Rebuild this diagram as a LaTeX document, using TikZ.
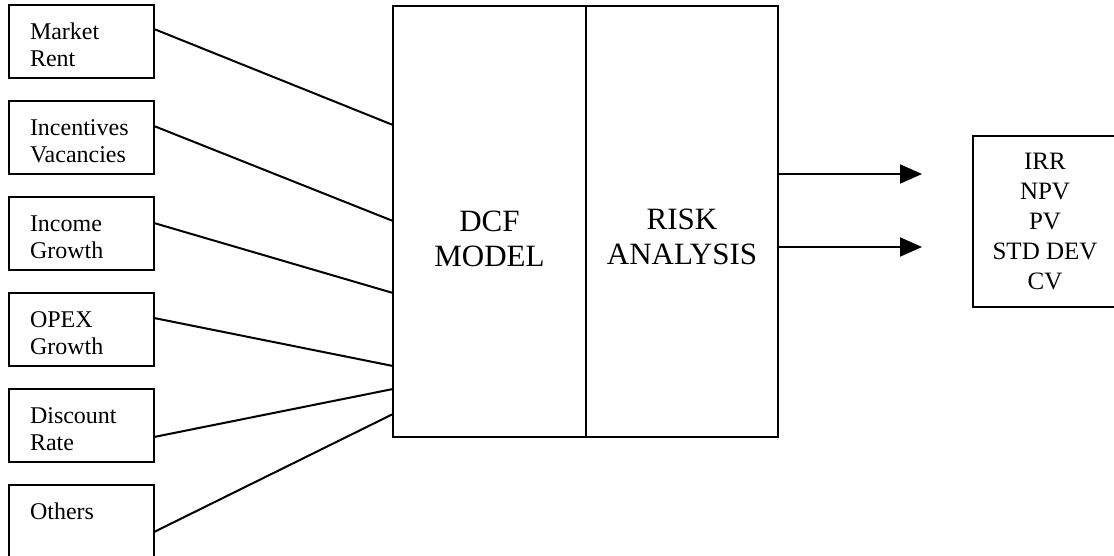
\documentclass[tikz,border=0pt]{standalone}
\usepackage{fontspec}
\setmainfont{Liberation Serif}
\usetikzlibrary{positioning,arrows.meta}

\begin{document}
\begin{tikzpicture}[line width=1pt,
    inbox/.style={draw, outer sep=0pt, text width=51.5pt, inner xsep=10.5pt,
        inner ysep=0pt, align=left, minimum height=36.5pt, text height=11.5pt,
        font=\fontsize{12}{13.5}\selectfont},
    bigbox/.style={draw, outer sep=0pt, minimum height=215.5pt},
    bigtext/.style={align=center, font=\fontsize{15.5}{17.5}\selectfont},
    outbox/.style={draw, outer sep=0pt, align=center, minimum width=72pt,
        minimum height=85.5pt, font=\fontsize{12.5}{15}\selectfont},
    arrow/.style={-{Triangle[length=11pt,width=9.5pt]}}]

% Frame of the picture
\path[use as bounding box, clip] (0,0) rectangle (557pt,-278pt);

% Input blocks
\node[inbox, anchor=north west] (in1) at (4.5pt,-2.5pt) {Market\\Rent};
\node[inbox, below=11.5pt of in1] (in2) {Incentives\\Vacancies};
\node[inbox, below=11.5pt of in2] (in3) {Income\\Growth};
\node[inbox, below=11.5pt of in3] (in4) {OPEX\\Growth};
\node[inbox, below=11.5pt of in4] (in5) {Discount\\Rate};
\node[inbox, below=11.5pt of in5] (in6) {Others\\\mbox{}};

% DCF model and risk analysis
\node[bigbox,
    minimum width=96.5pt,
    right=119.5pt of in1.north east,
    anchor=north west,
    yshift=-0.5pt,
    label={[bigtext, yshift=-8.5pt]center:DCF\\MODEL}] (dcf) {};

\node[bigbox,
    minimum width=96pt,
    right=0pt of dcf,
    label={[bigtext, yshift=-7.5pt]center:RISK\\ANALYSIS}] (risk) {};

% Results
\node[outbox, right=97.5pt of risk] (out) {IRR\\NPV\\PV\\STD DEV\\CV};

\coordinate (tip1) at ([xshift=-25.5pt, yshift=23.75pt]out.west);
\coordinate (tip2) at ([xshift=-25.5pt, yshift=-12.75pt]out.west);

% Inputs into the model
\draw ([yshift=6.25pt]in1.east) -- ([yshift=-59.5pt]dcf.north west);
\draw ([yshift=5.75pt]in2.east) -- ([yshift=-107.5pt]dcf.north west);
\draw ([yshift=5.25pt]in3.east) -- ([yshift=-143.5pt]dcf.north west);
\draw ([yshift=5.75pt]in4.east) -- ([yshift=-180pt]dcf.north west);
\draw ([yshift=-5.75pt]in5.east) -- ([yshift=-191.5pt]dcf.north west);
\draw ([yshift=-5.25pt]in6.east) -- ([yshift=-204pt]dcf.north west);

% Arrows
\draw[arrow] (risk.east |- tip1) -- (tip1);
\draw[arrow] (risk.east |- tip2) -- (tip2);

\end{tikzpicture}
\end{document}
